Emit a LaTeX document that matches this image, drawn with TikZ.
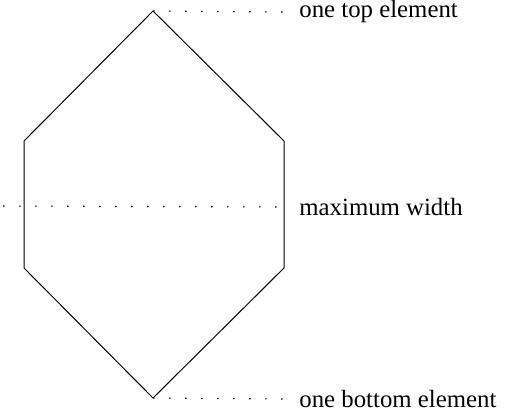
\documentclass[tikz,border=0pt]{standalone}
\usepackage{fontspec}
\setmainfont{Liberation Serif}
\usetikzlibrary{positioning}

\begin{document}
\begin{tikzpicture}[x=0.5pt, y=-0.5pt,
  hint/.style={dash pattern=on 0.8pt off 7.2pt, line width=0.55pt},
  lbl/.style={anchor=west, inner xsep=6.5pt, inner ysep=0pt, font=\fontsize{12.4}{15}\selectfont}
]
  \useasboundingbox (0,0) rectangle (507,413);
  \coordinate (top) at (153,11);
  \coordinate (ul) at (24,141);
  \coordinate (ll) at (24,268);
  \coordinate (bot) at (153,398);
  \coordinate (lr) at (284,268);
  \coordinate (ur) at (284,141);
  \coordinate (midl) at (3,206);

  \draw[line width=0.5pt] (top) -- (ul) -- (ll) -- (bot) -- (lr) -- (ur) -- cycle;

  \node[lbl] (toptxt) at (286,12) {one top element};
  \node[lbl] (midtxt) at (286,207) {maximum width};
  \node[lbl] (bottxt) at (286,399) {one bottom element};

  \draw[hint] (top) -- (toptxt.west);
  \draw[hint] (midl) -- (midtxt.west);
  \draw[hint] (bot) -- (bottxt.west);
\end{tikzpicture}
\end{document}
